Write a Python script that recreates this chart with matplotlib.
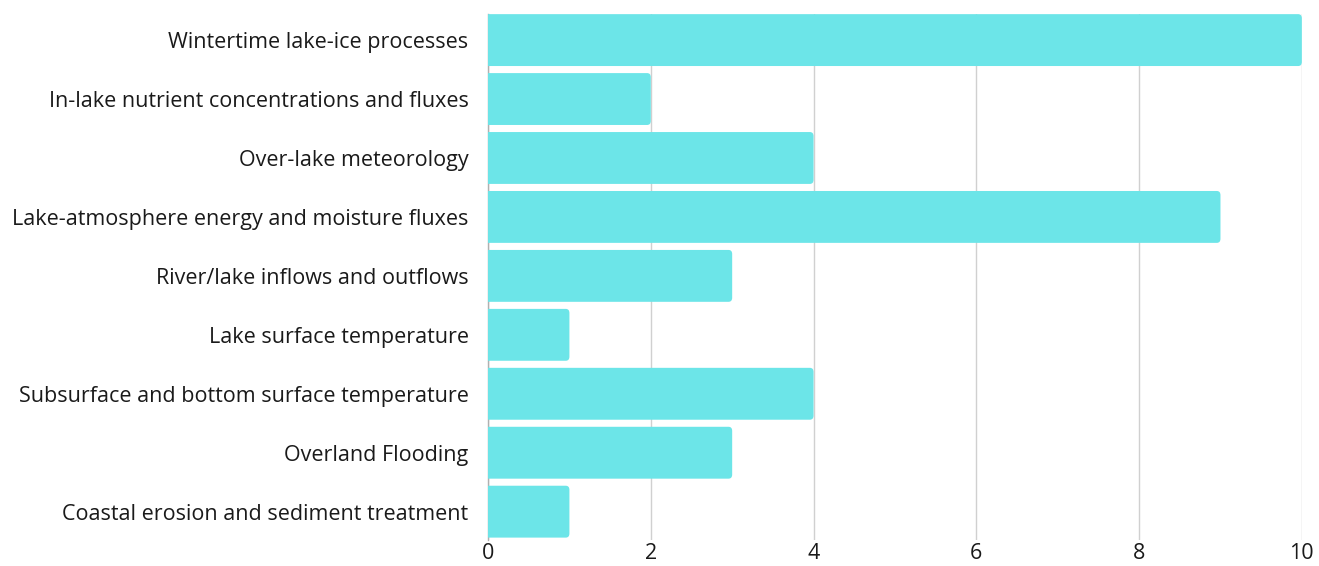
import matplotlib
matplotlib.use("Agg")
import matplotlib.pyplot as plt
from matplotlib.patches import PathPatch
from matplotlib.path import Path

plt.rcParams['font.family'] = ['Open Sans', 'DejaVu Sans']

topics = [
    "Wintertime lake-ice processes",
    "In-lake nutrient concentrations and fluxes",
    "Over-lake meteorology",
    "Lake-atmosphere energy and moisture fluxes",
    "River/lake inflows and outflows",
    "Lake surface temperature",
    "Subsurface and bottom surface temperature",
    "Overland Flooding",
    "Coastal erosion and sediment treatment",
]
counts = [10, 2, 4, 9, 3, 1, 4, 3, 1]
x_ticks = [0, 2, 4, 6, 8, 10]

bar_color = '#6ce5e8'
text_color = '#1a1a1a'


def right_rounded(x0, y0, w, h, rx, ry):
    # rectangle with square left side and rounded right-hand corners
    x1, y1 = x0 + w, y0 + h
    verts = [
        (x0, y0), (x1 - rx, y0),
        (x1, y0), (x1, y0 + ry),
        (x1, y1 - ry),
        (x1, y1), (x1 - rx, y1),
        (x0, y1), (x0, y0),
    ]
    codes = [Path.MOVETO, Path.LINETO,
             Path.CURVE3, Path.CURVE3,
             Path.LINETO,
             Path.CURVE3, Path.CURVE3,
             Path.LINETO, Path.CLOSEPOLY]
    return Path(verts, codes)


fig = plt.figure(figsize=(13.19, 5.66), dpi=100)
ax = fig.add_axes([0.370, 0.046, 0.617, 0.929])

y_pos = list(range(len(topics)))
bars = ax.barh(y_pos, counts, height=0.88, color=bar_color, zorder=3)

for b in bars:
    b.set_visible(False)
    path = right_rounded(b.get_x(), b.get_y(), b.get_width(), b.get_height(),
                         0.045, 0.07)
    ax.add_patch(PathPatch(path, facecolor=bar_color, edgecolor='none', zorder=3))

ax.set_xlim(0, 10)
ax.set_ylim(len(topics) - 1 + 0.48, -0.44)
ax.set_xticks(x_ticks)
ax.set_xticklabels([str(t) for t in x_ticks])
ax.set_yticks(y_pos)
ax.set_yticklabels(topics)

ax.tick_params(axis='y', length=0, labelsize=15.5, colors=text_color, pad=14)
ax.tick_params(axis='x', length=0, labelsize=15.5, colors=text_color, pad=2)

ax.grid(True, axis='x', color='#d0d0d0', linewidth=1, zorder=0)
ax.set_axisbelow(True)
for side in ['top', 'right', 'bottom']:
    ax.spines[side].set_visible(False)
ax.spines['left'].set_color('#b0b0b0')
ax.spines['left'].set_linewidth(1)

fig.savefig('out.png', dpi=100)
